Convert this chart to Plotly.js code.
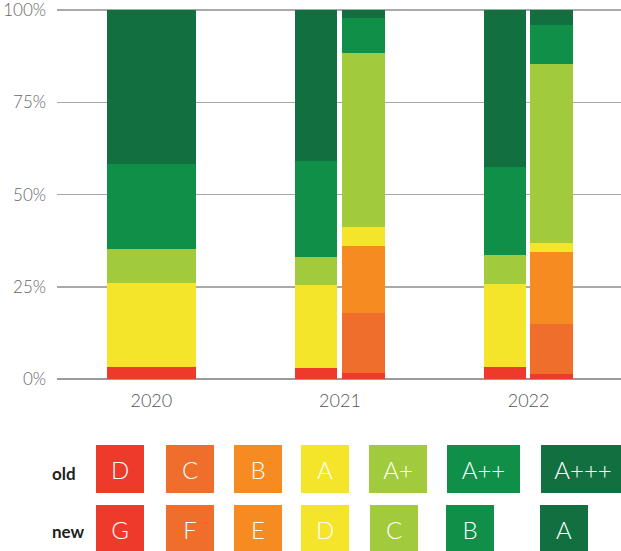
<!DOCTYPE html>
<html>
<head>
<meta charset="utf-8">
<script src="https://cdn.plot.ly/plotly-3.0.1.min.js"></script>
<style>
  html, body { margin: 0; padding: 0; background: #ffffff; }
  #chart { width: 621px; height: 551px; }
</style>
</head>
<body>
<div id="chart"></div>
<script>
// Energy label distribution per year (% of models), old scale vs new scale
const years = ['2020', '2021', '2022'];
const newYears = ['2021', '2022'];

const oldClasses = ['D', 'C', 'B', 'A', 'A+', 'A++', 'A+++'];
const newClasses = ['G', 'F', 'E', 'D', 'C', 'B', 'A'];

// old scale shares per year (2020, 2021, 2022)
const oldD    = [3.3, 3.0, 3.3];
const oldC    = [0, 0, 0];
const oldB    = [0, 0, 0];
const oldA    = [22.8, 22.5, 22.4];
const oldAp   = [9.1, 7.6, 7.9];
const oldApp  = [23.1, 26.0, 23.9];
const oldAppp = [41.7, 40.9, 42.5];

// new scale shares per year (2021, 2022)
const newG = [1.6, 1.4];
const newF = [16.3, 13.5];
const newE = [18.1, 19.5];
const newD = [5.2, 2.5];
const newC = [47.1, 48.5];
const newB = [9.5, 10.5];
const newA = [2.2, 4.1];

const yTicks = [0, 25, 50, 75, 100];
const yTickText = ['0%', '25%', '50%', '75%', '100%'];

// one colour per class step, lowest to highest
const classColors = ['#EE3A2B', '#EF6E2C', '#F68B22', '#F4E52B', '#A1CB3C', '#108F49', '#127040'];

const oldSeries = [oldD, oldC, oldB, oldA, oldAp, oldApp, oldAppp];
const newSeries = [newG, newF, newE, newD, newC, newB, newA];

// figure geometry
const W = 621, H = 551;
const M = { l: 57, r: 0, t: 9, b: 172 };
const plotW = W - M.l - M.r;
const plotH = H - M.t - M.b;
const px2x = p => (p - M.l) / plotW;
const px2y = p => (H - M.b - p) / plotH;

const FONT = 'Lato, "Open Sans", "DejaVu Sans", sans-serif';

// bar geometry (category units)
const pairW = 0.473, oldW = 0.222, gapW = 0.023, newW = 0.228;

function stackTraces(series, names, xs, widthFn, offset) {
  const base = xs.map(() => 0);
  return series.map((vals, i) => {
    const b = base.slice();
    vals.forEach((v, j) => { base[j] += v; });
    return {
      type: 'bar',
      x: xs,
      y: vals,
      base: b,
      name: names[i],
      width: xs.map(widthFn),
      offset: xs.map(() => offset),
      marker: { color: classColors[i], line: { width: 0 } },
      hovertemplate: names[i] + ': %{y}%<extra></extra>',
      showlegend: false
    };
  });
}

const oldTraces = stackTraces(oldSeries, oldClasses, years,
  x => (newYears.includes(x) ? oldW : pairW), -pairW / 2);
const newTraces = stackTraces(newSeries, newClasses, newYears,
  () => newW, -pairW / 2 + oldW + gapW);

// colour key below the chart: [centre px, width px]
const oldKeyPos = [[120, 48], [190, 48], [258, 48], [325, 48], [398, 58], [483.5, 73], [583, 84]];
const newKeyPos = [[120, 48], [190, 48], [258, 48], [325, 48], [394, 48], [470, 48], [564, 48]];
const oldRowY = 469, newRowY = 529, keyH = 48;

const annotations = [];
function keyRow(labels, pos, rowY) {
  labels.forEach((lab, i) => {
    annotations.push({
      xref: 'paper', yref: 'paper',
      x: px2x(pos[i][0]), y: px2y(rowY),
      xanchor: 'center', yanchor: 'middle',
      width: pos[i][1], height: keyH,
      bgcolor: classColors[i], borderpad: 0, borderwidth: 0,
      showarrow: false, align: 'center', valign: 'middle',
      text: lab,
      font: { family: FONT, size: 24, color: '#ffffff', weight: 300 }
    });
  });
}
keyRow(oldClasses, oldKeyPos, oldRowY);
keyRow(newClasses, newKeyPos, newRowY);

[['old', 473], ['new', 531]].forEach(([txt, yy]) => {
  annotations.push({
    xref: 'paper', yref: 'paper',
    x: px2x(50), y: px2y(yy),
    xanchor: 'left', yanchor: 'middle',
    showarrow: false, text: '<b>' + txt + '</b>',
    font: { family: FONT, size: 17, color: '#231f20' }
  });
});

const layout = {
  width: W, height: H,
  margin: M,
  paper_bgcolor: '#ffffff', plot_bgcolor: '#ffffff',
  barmode: 'overlay',
  bargap: 0,
  showlegend: false,
  font: { family: FONT },
  xaxis: {
    type: 'category',
    categoryorder: 'array', categoryarray: years,
    range: [-0.5, 2.49],
    showgrid: false, zeroline: false, showline: false,
    ticks: '', ticklabelstandoff: 9,
    tickfont: { family: FONT, size: 18, color: '#555555', weight: 300 },
    fixedrange: true
  },
  yaxis: {
    range: [0, 100.3],
    tickmode: 'array', tickvals: yTicks, ticktext: yTickText,
    ticklabeloverflow: 'allow',
    showgrid: true, gridcolor: '#a9a9a9', gridwidth: 1.5,
    zeroline: true, zerolinecolor: '#9a9a9a', zerolinewidth: 2,
    showline: false, ticks: '', ticklabelstandoff: 10,
    tickfont: { family: FONT, size: 17, color: '#666666', weight: 300 },
    fixedrange: true
  },
  annotations: annotations
};

Plotly.newPlot('chart', oldTraces.concat(newTraces), layout, { displayModeBar: false, staticPlot: true });
</script>
</body>
</html>
